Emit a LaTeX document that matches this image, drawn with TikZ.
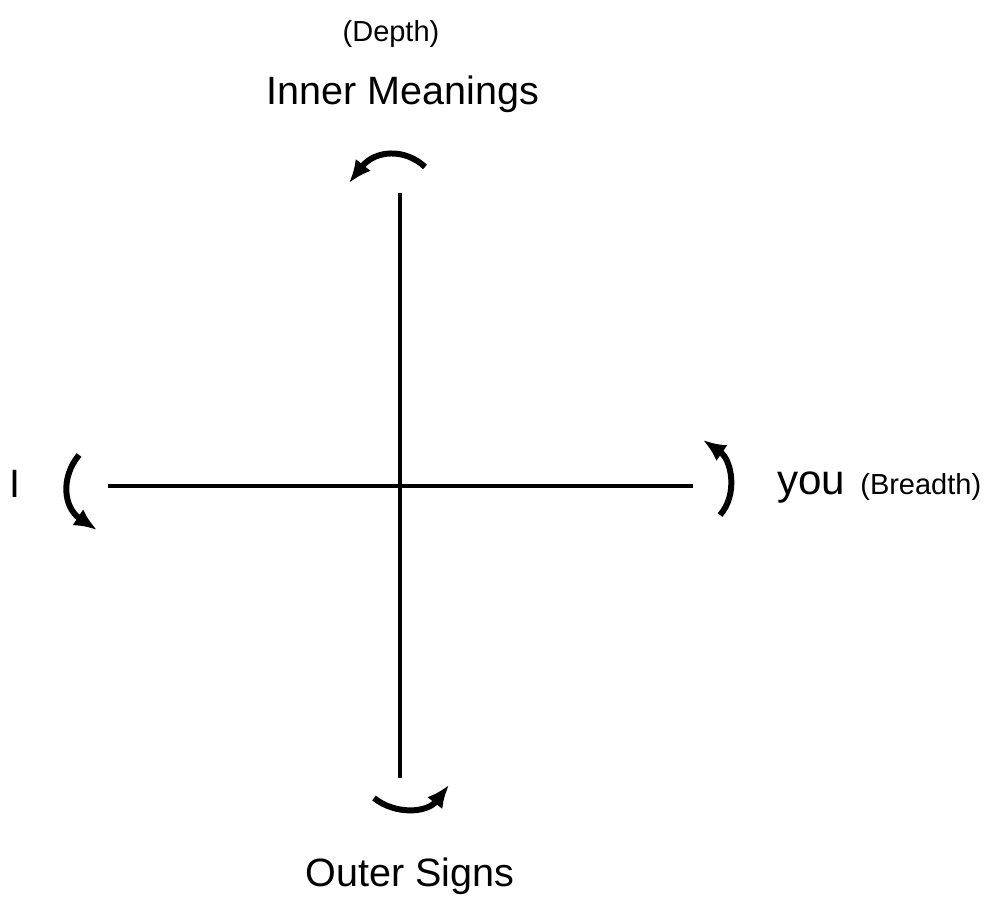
\documentclass[tikz,border=0pt]{standalone}
\usepackage{fontspec}
\setmainfont{Liberation Sans}
\usetikzlibrary{arrows.meta}

\begin{document}
\begin{tikzpicture}[
x=0.02cm, y=-0.02cm,
axis/.style={line width=1.8pt},
turn/.style={-{Latex[length=13pt, width=11pt]}, line width=3.4pt},
big/.style={font=\fontsize{22.5}{26}\selectfont, inner sep=0pt},
small/.style={font=\fontsize{16.5}{20}\selectfont, inner sep=0pt}
]
\useasboundingbox (0,0) rectangle (992,901);
% labels
\node[small, anchor=base] (depth) at (391,42) {(Depth)};
\node[big, anchor=base] (inner) at (403,105) {Inner Meanings};
\node[big, anchor=base] (outer) at (410,887) {Outer Signs};
\node[big, anchor=base] (me) at (15,498) {I};
\node[big, font=\fontsize{24}{28}\selectfont, anchor=base west] (you) at (777,495) {you};
\node[small, anchor=base west] (breadth) at (860,495) {(Breadth)};
% axes
\coordinate (top) at (400,193);
\coordinate (bottom) at (400,778);
\coordinate (left) at (108,486);
\coordinate (right) at (693,486);
\draw[axis] (top)--(bottom);
\draw[axis] (left)--(right);
% turning arrows
\coordinate (t1) at (425,167);
\coordinate (t2) at (349,183);
\coordinate (l1) at (79,455);
\coordinate (l2) at (97,530);
\coordinate (r1) at (720,515);
\coordinate (r2) at (703,440);
\coordinate (b1) at (374,798);
\coordinate (b2) at (449,785);
\draw[turn] (t1) .. controls (405,148) and (375,150) .. (t2);
\draw[turn] (l1) .. controls (60,478) and (64,508) .. (l2);
\draw[turn] (r1) .. controls (738,495) and (732,460) .. (r2);
\draw[turn] (b1) .. controls (395,815) and (427,813) .. (b2);
\end{tikzpicture}
\end{document}
